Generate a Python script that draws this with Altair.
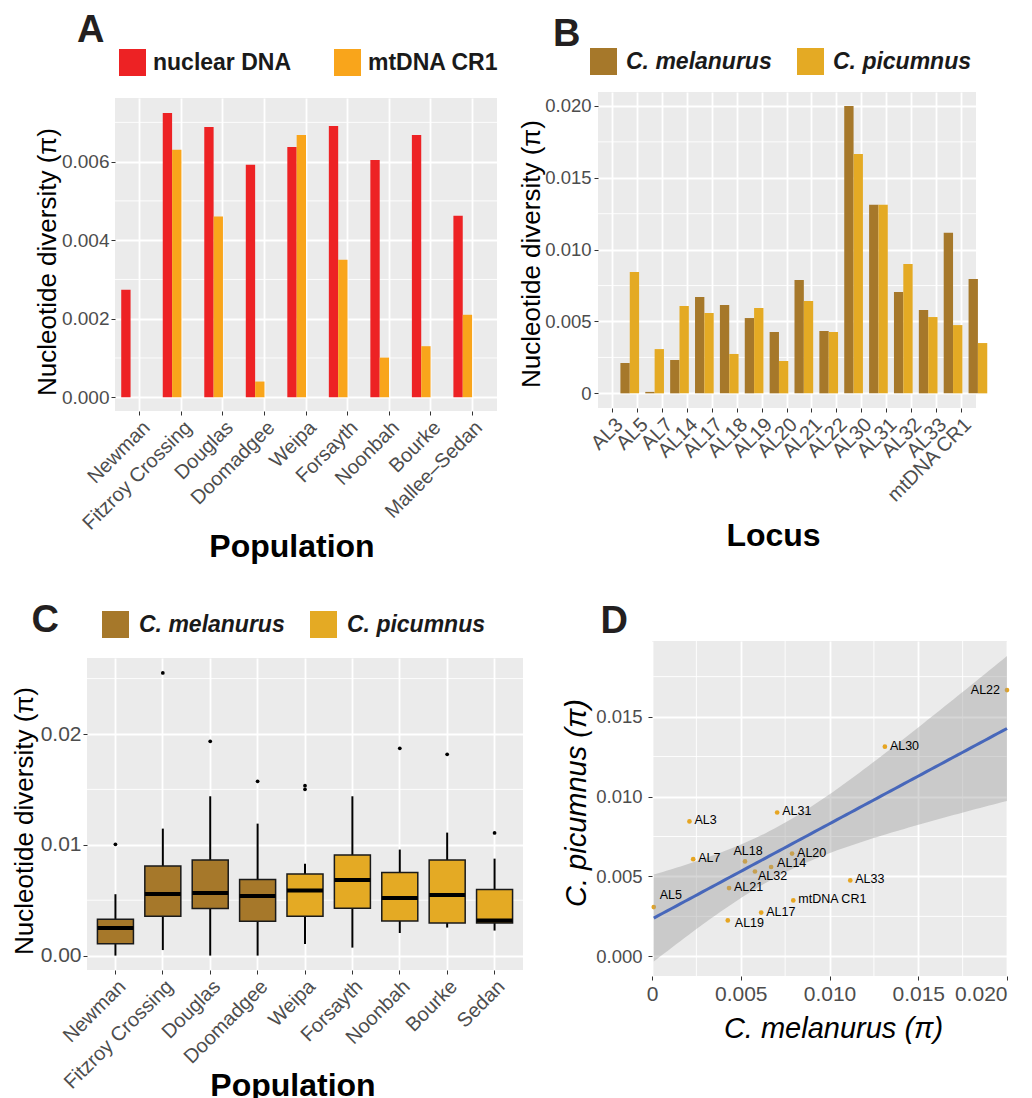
import altair as alt
import numpy as np
import pandas as pd

FONT = "Liberation Sans"
GREY_BG = "#EBEBEB"
LABEL_GREY = "#4D4D4D"
TICK = "#333333"

# ---------------- Panel A data ----------------
pops_a = ["Newman", "Fitzroy Crossing", "Douglas", "Doomadgee", "Weipa",
          "Forsayth", "Noonbah", "Bourke", "Mallee\u2013Sedan"]
nuclear_a = [0.00274, 0.00724, 0.00688, 0.00592, 0.00637, 0.00691, 0.00604, 0.00668, 0.00462]
mtdna_a = [0.0, 0.0063, 0.0046, 0.0004, 0.00668, 0.0035, 0.00101, 0.0013, 0.0021]
markers_a = ["nuclear DNA", "mtDNA CR1"]
colors_a = ["#ED2224", "#F9A51B"]
yticks_a = [0.0, 0.002, 0.004, 0.006]
yminor_a = [0.001, 0.003, 0.005, 0.007]

# ---------------- Panel B data ----------------
loci = ["AL3", "AL5", "AL7", "AL14", "AL17", "AL18", "AL19", "AL20", "AL21",
        "AL22", "AL30", "AL31", "AL32", "AL33", "mtDNA CR1"]
mel_b = [0.00211, 0.0001, 0.00232, 0.00671, 0.00615, 0.00524, 0.00427, 0.00789,
         0.00434, 0.0200, 0.01312, 0.00705, 0.0058, 0.01117, 0.00796]
pic_b = [0.00844, 0.00308, 0.00608, 0.00559, 0.00274, 0.00594, 0.00225, 0.00643,
         0.00427, 0.01666, 0.01312, 0.0090, 0.00531, 0.00475, 0.0035]
species = ["C. melanurus", "C. picumnus"]
colors_sp = ["#A6782A", "#E4AA24"]
yticks_b = [0.0, 0.005, 0.010, 0.015, 0.020]
yminor_b = [0.0025, 0.0075, 0.0125, 0.0175]

# ---------------- Panel C data (box-plot summaries) ----------------
pops_c = ["Newman", "Fitzroy Crossing", "Douglas", "Doomadgee", "Weipa",
          "Forsayth", "Noonbah", "Bourke", "Sedan"]
species_c = ["C. melanurus"] * 4 + ["C. picumnus"] * 5
whisk_lo_c = [0.0, 0.0005, 0.0, 0.0, 0.00105, 0.00072, 0.00204, 0.00253, 0.00226]
q1_c = [0.00108, 0.00355, 0.00424, 0.0031, 0.00355, 0.00427, 0.00312, 0.00294, 0.00294]
median_c = [0.00249, 0.00556, 0.00565, 0.00538, 0.00587, 0.00682, 0.0052, 0.00547, 0.00316]
q3_c = [0.00328, 0.00809, 0.00863, 0.00686, 0.00737, 0.00908, 0.00749, 0.00863, 0.00596]
whisk_hi_c = [0.00554, 0.01146, 0.01438, 0.01191, 0.0083, 0.01438, 0.00957, 0.0111, 0.00875]
outlier_pop_c = ["Newman", "Fitzroy Crossing", "Douglas", "Doomadgee", "Weipa",
                 "Weipa", "Noonbah", "Bourke", "Sedan"]
outlier_val_c = [0.01004, 0.02551, 0.01934, 0.01573, 0.01534, 0.01501, 0.01871, 0.01817, 0.01107]
yticks_c = [0.0, 0.01, 0.02]
yminor_c = [0.005, 0.015, 0.025]

# ---------------- Panel D ----------------
xticks_d = [0.0, 0.005, 0.010, 0.015, 0.020]
yticks_d = [0.0, 0.005, 0.010, 0.015]
minor_d = [0.0025, 0.0075, 0.0125, 0.0175]
point_color_d = "#E6A521"
line_color_d = "#4767BA"
# label placement (style): names, align, dx, dy
label_groups_d = [
    (["AL3", "AL7", "AL30", "AL31", "AL20", "AL21", "AL17", "AL33", "mtDNA CR1"], "left", 5, -1),
    (["AL14"], "left", 6, -4),
    (["AL22"], "right", -7, 0),
    (["AL5"], "left", 6, -12),
    (["AL18"], "center", 3, -10),
    (["AL32"], "left", 3, 5),
    (["AL19"], "left", 7, 3),
]


def y_axis(values, title, title_x, title_y, label_size, fmt=None, expr=None,
           label_padding=2, title_size=26, italic=False):
    kw = dict(values=values, title=title, titleX=title_x, titleY=title_y,
              titleAngle=270, titleBaseline="alphabetic", titleAlign="center",
              titleFont=FONT, titleFontSize=title_size, titleFontWeight="normal",
              titleColor="black", labelFont=FONT, labelFontSize=label_size,
              labelColor=LABEL_GREY, labelPadding=label_padding, tickColor=TICK,
              tickSize=4, tickWidth=1, domain=False, grid=True, gridColor="white",
              gridWidth=1.8, labelFlush=False)
    if fmt is not None:
        kw["format"] = fmt
    if expr is not None:
        kw["labelExpr"] = expr
    if italic:
        kw["titleFontStyle"] = "italic"
    return alt.Axis(**kw)


def x_band_axis(title, title_x, title_y, label_size=20, title_size=32):
    return alt.Axis(bandPosition=0.5, labelAngle=315, labelAlign="right",
                    labelBaseline="top", labelFont=FONT, labelFontSize=label_size,
                    labelColor=LABEL_GREY, labelPadding=2, labelOverlap=False,
                    labelLimit=300, tickColor=TICK, tickSize=4, tickWidth=1,
                    domain=False, grid=True, gridColor="white", gridWidth=1.8,
                    title=title, titleX=title_x, titleY=title_y, titleAlign="center",
                    titleBaseline="alphabetic", titleFont=FONT,
                    titleFontSize=title_size, titleFontWeight="bold",
                    titleColor="black")


def legend(x, y, label_offset, col_pad, italic):
    kw = dict(orient="none", legendX=x, legendY=y, direction="horizontal",
              padding=0, title=None, symbolType="square", symbolSize=729,
              symbolStrokeWidth=0, symbolOpacity=1, labelFont=FONT,
              labelFontSize=23, labelFontWeight="bold", labelColor="#1A1A1A",
              labelOffset=label_offset, columnPadding=col_pad, labelLimit=300)
    if italic:
        kw["labelFontStyle"] = "italic"
    return alt.Legend(**kw)


def letter(text, dx, offset):
    return alt.TitleParams(text=text, anchor="start", frame="group", dx=dx,
                           offset=offset, fontSize=38, fontWeight="bold",
                           font=FONT, color="#231F20", baseline="alphabetic",
                           orient="top")


def spacer(w, h):
    return alt.Chart(pd.DataFrame({"s": pd.Series([], dtype=float)})).mark_point(
        opacity=0).properties(width=w, height=h)


bg = alt.ViewBackground(fill=GREY_BG, stroke=None)

# ---------------- Panel A ----------------
df_a = pd.DataFrame({
    "pop": pops_a * 2,
    "marker": [markers_a[0]] * len(pops_a) + [markers_a[1]] * len(pops_a),
    "pi": nuclear_a + mtdna_a,
})
y_a = alt.Y("pi:Q", scale=alt.Scale(domain=[-0.00035, 0.00762], nice=False),
            axis=y_axis(yticks_a, "Nucleotide diversity (\u03c0)", -60, 163.5, 19,
                        fmt=".3f", label_padding=2))
x_a = alt.X("pop:N", sort=pops_a, scale=alt.Scale(paddingInner=0.1, paddingOuter=0.15),
            axis=x_band_axis("Population", 176.5, 145))
minor_a = alt.Chart(pd.DataFrame({"pi": yminor_a})).mark_rule(
    color="white", strokeWidth=0.9).encode(y=y_a)
bars_a = alt.Chart(df_a).mark_bar().encode(
    x=x_a,
    xOffset=alt.XOffset("marker:N", sort=markers_a,
                        scale=alt.Scale(domain=markers_a, paddingInner=0, paddingOuter=0)),
    y=y_a,
    color=alt.Color("marker:N", sort=markers_a,
                    scale=alt.Scale(domain=markers_a, range=colors_a),
                    legend=legend(4, 41, 7, 42, False)),
)
panel_a = alt.layer(minor_a, bars_a).properties(
    width=382, height=313, view=bg, title=letter("A", -38, 18))

# ---------------- Panel B ----------------
df_b = pd.DataFrame({
    "locus": loci * 2,
    "sp": [species[0]] * len(loci) + [species[1]] * len(loci),
    "pi": mel_b + pic_b,
})
y_b = alt.Y("pi:Q", scale=alt.Scale(domain=[-0.00102, 0.02097], nice=False),
            axis=y_axis(yticks_b, "Nucleotide diversity (\u03c0)", -59, 161.5, 18.5,
                        expr="datum.value == 0 ? '0' : format(datum.value, '.3f')",
                        label_padding=3))
x_b = alt.X("locus:N", sort=loci, scale=alt.Scale(paddingInner=0.1, paddingOuter=0.15),
            axis=x_band_axis("Locus", 175, 137))
minor_b = alt.Chart(pd.DataFrame({"pi": yminor_b})).mark_rule(
    color="white", strokeWidth=0.9).encode(y=y_b)
bars_b = alt.Chart(df_b).mark_bar().encode(
    x=x_b,
    xOffset=alt.XOffset("sp:N", sort=species,
                        scale=alt.Scale(domain=species, paddingInner=0, paddingOuter=0)),
    y=y_b,
    color=alt.Color("sp:N", sort=species,
                    scale=alt.Scale(domain=species, range=colors_sp),
                    legend=legend(-8, 40, 9, 25, True)),
)
panel_b = alt.layer(minor_b, bars_b).properties(
    width=378, height=316, view=bg, title=letter("B", -45, 8))

# ---------------- Panel C ----------------
df_c = pd.DataFrame({
    "pop": pops_c, "sp": species_c, "lo": whisk_lo_c, "q1": q1_c,
    "pi": median_c, "q3": q3_c, "hi": whisk_hi_c,
})
df_c_out = pd.DataFrame({"pop": outlier_pop_c, "pi": outlier_val_c})
yscale_c = alt.Scale(domain=[-0.0013, 0.02686], nice=False)
yaxis_c = y_axis(yticks_c, "Nucleotide diversity (\u03c0)", -55, 162.5, 21,
                 fmt=".2f", label_padding=2)
x_c = alt.X("pop:N", sort=pops_c, scale=alt.Scale(paddingInner=0.24, paddingOuter=0.22),
            axis=x_band_axis("Population", 205.5, 125))
minor_c = alt.Chart(pd.DataFrame({"pi": yminor_c})).mark_rule(
    color="white", strokeWidth=0.9).encode(y=alt.Y("pi:Q", scale=yscale_c, axis=yaxis_c))
whisk_c = alt.Chart(df_c).mark_rule(color="black", strokeWidth=2).encode(
    x=x_c, y=alt.Y("lo:Q", scale=yscale_c, axis=yaxis_c), y2="hi:Q")
box_c = alt.Chart(df_c).mark_bar(stroke="#1A1A1A", strokeWidth=1.5).encode(
    x=x_c, y=alt.Y("q1:Q", scale=yscale_c, axis=yaxis_c), y2="q3:Q",
    color=alt.Color("sp:N", sort=species,
                    scale=alt.Scale(domain=species, range=colors_sp),
                    legend=legend(15, 18, 10, 25, True)))
med_c = alt.Chart(df_c).mark_tick(color="black", thickness=4, size=36, opacity=1).encode(
    x=x_c, y=alt.Y("pi:Q", scale=yscale_c, axis=yaxis_c))
out_c = alt.Chart(df_c_out).mark_circle(color="black", size=14, opacity=1).encode(
    x=x_c, y=alt.Y("pi:Q", scale=yscale_c, axis=yaxis_c))
panel_c = alt.layer(minor_c, whisk_c, box_c, med_c, out_c).properties(
    width=436, height=312, view=bg, title=letter("C", -55.5, -12))

# ---------------- Panel D ----------------
df_d = pd.DataFrame({"locus": loci, "mel": mel_b, "pic": pic_b})
xs = np.array(mel_b)
ys = np.array(pic_b)
n = len(xs)
xm, ym = xs.mean(), ys.mean()
sxx = ((xs - xm) ** 2).sum()
slope = ((xs - xm) * (ys - ym)).sum() / sxx
icpt = ym - slope * xm
resid = ys - (icpt + slope * xs)
s_err = np.sqrt((resid ** 2).sum() / (n - 2))
t_crit = 2.160369  # Student t, 0.975 quantile, df = 13
gx = np.linspace(xs.min(), xs.max(), 80)
fit = icpt + slope * gx
se = s_err * np.sqrt(1.0 / n + (gx - xm) ** 2 / sxx)
df_fit = pd.DataFrame({"mel": gx, "pic": fit, "lo": fit - t_crit * se, "hi": fit + t_crit * se})

xscale_d = alt.Scale(domain=[0, 0.02], nice=False, zero=False)
yscale_d = alt.Scale(domain=[-0.00123, 0.01973], nice=False, zero=False)
xaxis_d = alt.Axis(values=xticks_d,
                   labelExpr="datum.value == 0 ? '0' : format(datum.value, '.3f')",
                   labelAlign={"condition": {"test": "datum.value > 0.0199", "value": "right"},
                               "value": "center"},
                   labelFont=FONT, labelFontSize=21, labelColor=LABEL_GREY,
                   labelPadding=3, labelFlush=False, tickColor=TICK, tickSize=4,
                   tickWidth=1, domain=False, grid=True, gridColor="white",
                   gridWidth=1.8, title="C. melanurus (\u03c0)", titleX=181, titleY=61,
                   titleAlign="center", titleBaseline="alphabetic", titleFont=FONT,
                   titleFontSize=29, titleFontWeight="normal",
                   titleFontStyle="italic", titleColor="black")
yaxis_d = y_axis(yticks_d, "C. picumnus (\u03c0)", -67, 161.5, 18.5, fmt=".3f",
                 label_padding=6, title_size=29, italic=True)
x_d = alt.X("mel:Q", scale=xscale_d, axis=xaxis_d)
y_d = alt.Y("pic:Q", scale=yscale_d, axis=yaxis_d)

minor_dx = alt.Chart(pd.DataFrame({"mel": minor_d})).mark_rule(
    color="white", strokeWidth=0.9).encode(x=x_d)
minor_dy = alt.Chart(pd.DataFrame({"pic": minor_d})).mark_rule(
    color="white", strokeWidth=0.9).encode(y=y_d)
pts_d = alt.Chart(df_d).mark_circle(color=point_color_d, size=22, opacity=1).encode(
    x=x_d, y=y_d)
band_d = alt.Chart(df_fit).mark_area(color="#999999", opacity=0.4).encode(
    x=x_d, y=alt.Y("lo:Q", scale=yscale_d, axis=yaxis_d), y2="hi:Q")
line_d = alt.Chart(df_fit).mark_line(color=line_color_d, strokeWidth=3).encode(
    x=x_d, y=y_d)
label_layers = []
for names, align, dx, dy in label_groups_d:
    label_layers.append(
        alt.Chart(df_d).transform_filter(
            alt.FieldOneOfPredicate(field="locus", oneOf=names)
        ).mark_text(align=align, baseline="middle", dx=dx, dy=dy, font=FONT,
                    fontSize=12.5, color="black").encode(x=x_d, y=y_d, text="locus:N")
    )
panel_d = alt.layer(minor_dx, minor_dy, pts_d, band_d, line_d, *label_layers).properties(
    width=355, height=335, view=bg, title=letter("D", -51.5, -30))

# ---------------- Layout ----------------
row1 = alt.hconcat(
    spacer(26, 1),
    alt.vconcat(spacer(1, 4), panel_a, spacing=0),
    spacer(19, 1),
    alt.vconcat(spacer(1, 8), panel_b, spacing=0),
    spacing=0,
).resolve_scale(color="independent")

row2 = alt.hconcat(
    spacer(2, 1),
    alt.vconcat(spacer(1, 9), panel_c, spacing=0),
    spacer(38, 1),
    alt.vconcat(spacer(1, 9), panel_d, spacing=0),
    spacing=0,
).resolve_scale(color="independent")

chart = alt.vconcat(row1, row2, spacing=31).resolve_scale(
    color="independent"
).properties(
    padding={"left": 0, "top": 0, "right": 0, "bottom": 0}
).configure_view(stroke=None).configure(font=FONT, background="white")

chart.save("out.html", embed_options={"renderer": "svg", "actions": False})
